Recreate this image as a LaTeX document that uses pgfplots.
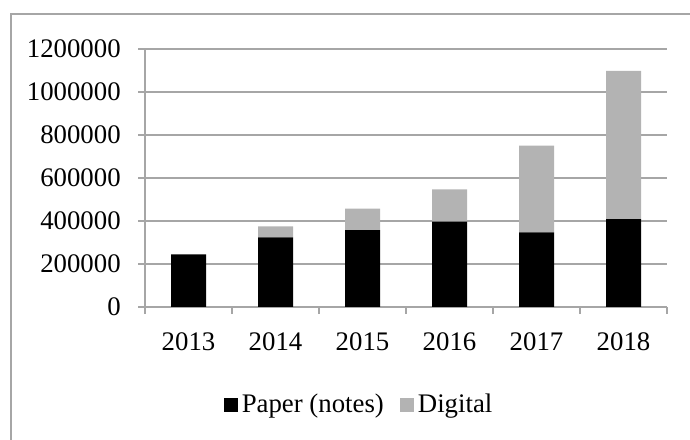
\documentclass[border=0pt]{standalone}
\usepackage{fontspec}
\setmainfont{Liberation Serif}
\usepackage{pgfplots}
\pgfplotsset{compat=1.18}
\definecolor{gridc}{HTML}{A6A6A6}
\definecolor{digc}{HTML}{B3B3B3}
\begin{document}
\fontsize{13.4}{16}\selectfont
\begin{tikzpicture}
\path[use as bounding box] (0,0) rectangle (345pt,219.5pt);
\draw[gridc, line width=0.8pt] (5.5pt,-10pt) -- (5.5pt,212.5pt) -- (360pt,212.5pt);
\begin{axis}[
  at={(72.5pt,66pt)}, anchor=south west,
  scale only axis, width=261pt, height=129pt,
  font=\fontsize{13.4}{16}\selectfont,
  /pgf/number format/assume math mode=true,
  ybar stacked, bar width=17.5pt,
  xmin=-0.5, xmax=5.5, ymin=0, ymax=1200000,
  ytick={0,200000,...,1200000},
  scaled y ticks=false,
  yticklabel style={/pgf/number format/fixed, /pgf/number format/1000 sep={}},
  xtick={0,...,5}, xticklabels={2013,2014,2015,2016,2017,2018},
  minor xtick={-0.5,0.5,...,5.5},
  major tick length=3.5pt, minor tick length=3.5pt,
  every major x tick/.style={draw=none},
  tick align=outside,
  tick style={gridc, line width=0.6pt},
  axis x line*=bottom, axis y line*=left,
  axis line style={gridc, line width=0.6pt},
  ymajorgrids, grid style={gridc, line width=0.6pt},
  xticklabel style={yshift=-4.5pt},
  yticklabel style={xshift=-4pt},
  legend columns=2,
  legend style={at={(0.412,-0.38)}, anchor=center, draw=none, fill=none,
    /tikz/every even column/.append style={column sep=6pt},
    font=\fontsize{13.4}{16}\selectfont},
  legend image code/.code={\fill[#1] (0pt,-3.5pt) rectangle (7pt,3.5pt);},
]
\addplot[fill=black, draw=none] coordinates {(0,245000) (1,324000) (2,357000) (3,397000) (4,347000) (5,409000)};
\addplot[fill=digc, draw=none] coordinates {(0,0) (1,51000) (2,100000) (3,150000) (4,403000) (5,689000)};
\legend{Paper (notes), Digital}
\end{axis}
\end{tikzpicture}
\end{document}
